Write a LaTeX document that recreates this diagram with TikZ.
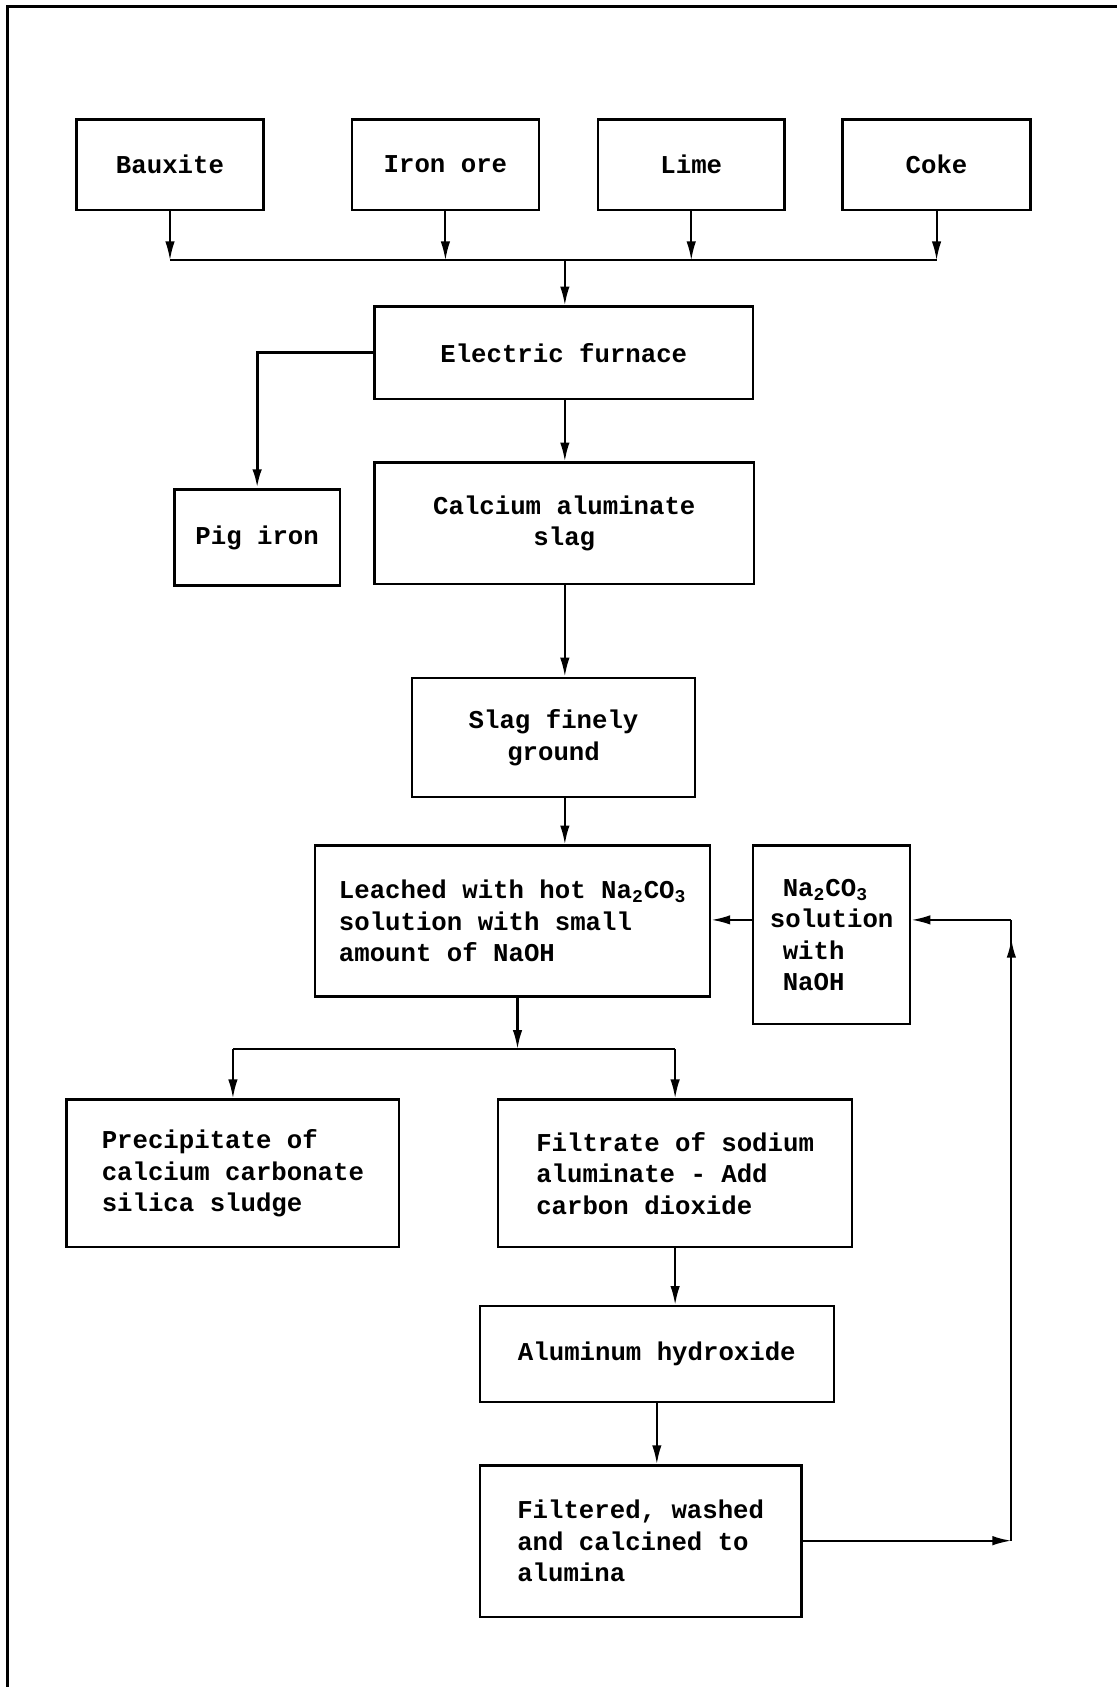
\documentclass[tikz,border=0pt]{standalone}
\usepackage{fontspec}
\usepackage{xcolor}
\usepackage{tikz}
\usetikzlibrary{arrows.meta}
\setmonofont{Liberation Mono}

\begin{document}
\begin{tikzpicture}[x=0.02cm, y=-0.02cm,
        box/.style 2 args={draw, line width=1.3pt, minimum width=#1*0.02cm,
            minimum height=#2*0.02cm, inner sep=0pt, align=center},
        lbox/.style 2 args={box={#1}{#2}, align=left},
        arrow/.style={line width=1.1pt, -{Latex[length=10pt, width=5pt]}},
        link/.style={line width=1.1pt},
        every node/.style={font=\fontsize{13.6}{16.7}\selectfont\ttfamily\bfseries}]
        \useasboundingbox (0, 0) rectangle (1038, 1568);

        % Frame of the page (top and left edge)
        \draw [line width=1.2pt] (7, 1568) -- (7, 6) -- (1038, 6);

        % Define the junction points of the connectors
        \coordinate (bus) at (525, 242);
        \coordinate (spine) at (525, 0);
        \coordinate (split) at (481, 975);
        \coordinate (loopbot) at (940, 1432);
        \coordinate (looptop) at (940, 855);

        % Raw materials, each fed down to the common bus
        \foreach \name/\x/\w/\label in {
            bauxite/158/174/Bauxite,
            ironore/414/174/Iron ore,
            lime/642.5/173/Lime,
            coke/870.5/175/Coke}{
            \node[box={\w}{84}] (\name) at (\x, 153) {\label};
            \draw [arrow] (\name.south) -- (\name.south |- bus);
        }
        \draw [link] (bauxite.south |- bus) -- (coke.south |- bus);

        % Furnace and its two products
        \node[box={352}{86}] (furnace) at (524, 328) {Electric furnace};
        \node[box={154}{89}] (pigiron) at (239, 499.5) {Pig iron};
        \node[box={353}{113}] (slag) at (524.5, 486.5) {Calcium aluminate\\slag};
        \draw [arrow] (bus) -- (bus |- furnace.north);
        \draw [arrow, line width=1.6pt] (furnace.west) -| (pigiron.north);
        \draw [arrow] (spine |- furnace.south) -- (spine |- slag.north);

        % Grinding and leaching
        \node[box={263}{111}] (ground) at (514.5, 685.5) {Slag finely\\ground};
        \node[lbox={367}{140}] (leached) at (476.5, 856)
            {Leached with hot Na\textsubscript{2}CO\textsubscript{3}\\solution with small\\amount of NaOH};
        \node[lbox={146}{166}] (soda) at (773, 869)
            {\hspace*{0.5em}Na\textsubscript{2}CO\textsubscript{3}\\solution\\\hspace*{0.5em}with\\\hspace*{0.5em}NaOH};
        \draw [arrow] (spine |- slag.south) -- (spine |- ground.north);
        \draw [arrow] (spine |- ground.south) -- (spine |- leached.north);
        \draw [arrow] (soda.west |- looptop) -- (leached.east |- looptop);

        % Separation of the leach liquor
        \node[lbox={309}{137}] (precip) at (216.5, 1090.5)
            {Precipitate of\\calcium carbonate\\silica sludge};
        \node[lbox={329}{137}] (filtrate) at (627.5, 1090.5)
            {Filtrate of sodium\\aluminate - Add\\carbon dioxide};
        \draw [arrow] (leached.south -| split) -- (split);
        \draw [link] (precip.north |- split) -- (filtrate.north |- split);
        \draw [arrow] (precip.north |- split) -- (precip.north);
        \draw [arrow] (filtrate.north |- split) -- (filtrate.north);

        % Precipitation and calcining
        \node[box={329}{89}] (hydroxide) at (610.5, 1258.5) {Aluminum hydroxide};
        \node[lbox={299}{141}] (filtered) at (595.5, 1432.5)
            {Filtered, washed\\and calcined to\\alumina};
        \draw [arrow] (filtrate.south) -- (filtrate.south |- hydroxide.north);
        \draw [arrow] (hydroxide.south) -- (hydroxide.south |- filtered.north);

        % Solution returned to the leaching step
        \draw [arrow] (filtered.east |- loopbot) -- (loopbot);
        \draw [link] (loopbot) -- (looptop);
        \draw [arrow] (loopbot) -- ([yshift=-10pt]looptop);
        \draw [arrow] (looptop) -- (looptop -| soda.east);
    \end{tikzpicture}
\end{document}
